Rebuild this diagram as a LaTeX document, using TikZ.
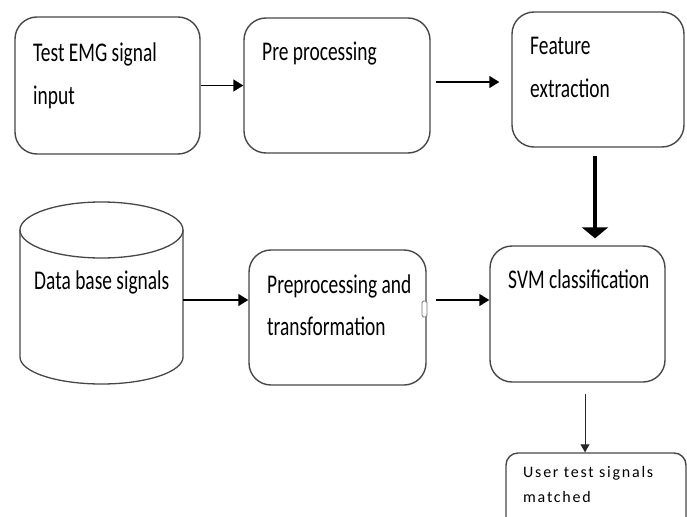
\documentclass[tikz,border=0pt]{standalone}
\usepackage{fontspec}
\setmainfont{Carlito}[FakeStretch=0.72]
\newfontfamily\smallfont{Carlito}[LetterSpace=11]
\usetikzlibrary{arrows.meta,calc}

\begin{document}
\begin{tikzpicture}[x=1pt,y=-1pt,
  box/.style={draw=black!72, line width=1.4pt, rounded corners=22pt, inner sep=0pt},
  cyl/.style={draw=black!72, line width=1.3pt},
  lbl/.style={anchor=base west, inner sep=0pt, font=\fontsize{27}{42}\selectfont, text=black},
  small/.style={anchor=base west, inner sep=0pt, font=\smallfont\fontsize{16}{25}\selectfont, text=black},
  arr/.style={draw=black, line width=1.4pt, -{Triangle[width=12pt,length=10pt]}},
  thinarr/.style={draw=black!85, line width=1pt, -{Triangle[width=9pt,length=8pt]}},
  heavy/.style={draw=black, line width=3.8pt, -{Triangle[width=26pt,length=11pt]}}]

\useasboundingbox (0,0) rectangle (687,516);
\clip (0,0) rectangle (687,516);

% process boxes
\node (b1)  [box, minimum width=185pt, minimum height=137pt] at (107.5,85.5) {};
\node (b2)  [box, minimum width=186pt, minimum height=135pt] at (337,85.5) {};
\node (b3)  [box, minimum width=172pt, minimum height=135pt] at (598,79.5) {};
\node (pre) [box, minimum width=177pt, minimum height=135pt] at (337.5,317.5) {};
\node (svm) [box, minimum width=175pt, minimum height=136pt] at (577.5,314) {};
\node (user)[box, rounded corners=12pt, minimum width=180pt, minimum height=82pt] at (596,494) {};

% database cylinder
\draw[cyl] (20,230) -- (20,357)
  arc[start angle=180, end angle=360, x radius=81.5pt, y radius=27pt] -- (183,230);
\draw[cyl] (101.5,230) ellipse [x radius=81.5pt, y radius=28pt];
\node (db) [inner sep=0pt, minimum width=163pt, minimum height=182pt] at (101.5,293) {};

% small handle on the right side of the preprocessing box
\node (hd) [draw=black!55, fill=white, line width=0.8pt, rounded corners=1.5pt,
  minimum width=5pt, minimum height=16pt, inner sep=0pt] at (424.5,309) {};

% labels
\node (t1a) [lbl] at (33,62)  {Test EMG signal};
\node (t1b) [lbl] at (33,104) {input};
\node (t2)  [lbl] at (262,61) {Pre processing};
\node (t3a) [lbl] at (530,55) {Feature};
\node (t3b) [lbl] at (530,98) {extraction};
\node (t4)  [lbl] at (34,289) {Data base signals};
\node (t5a) [lbl] at (267,293) {Preprocessing and};
\node (t5b) [lbl] at (267,335) {transformation};
\node (t6)  [lbl] at (508,288) {SVM classification};
\node (t7a) [small] at (523,477) {User test signals};
\node (t7b) [small] at (523,502) {matched};

% connectors
\draw[arr] (b1.east) -- (b2.west);

\coordinate (a2s) at ([xshift=5pt,yshift=3.5pt]b2.east);
\coordinate (f3w) at ([xshift=-12pt]b3.west);
\draw[arr] (a2s) -- (a2s -| f3w);

\coordinate (h1) at ([xshift=-3pt,yshift=-8pt]b3.south);
\coordinate (h2) at ([yshift=7pt]svm.north);
\draw[heavy] (h1) -- (h1 |- h2);

\coordinate (d1) at ([yshift=-7pt]db.east);
\draw[arr] (d1) -- (d1 -| pre.west);

\coordinate (p1) at ([xshift=9pt,yshift=17.5pt]pre.east);
\draw[arr] (p1) -- (p1 -| svm.west);

\coordinate (s1) at ([xshift=7.5pt,yshift=-11pt]svm.south);
\draw[thinarr] (s1) -- (s1 |- user.north);
\end{tikzpicture}
\end{document}
